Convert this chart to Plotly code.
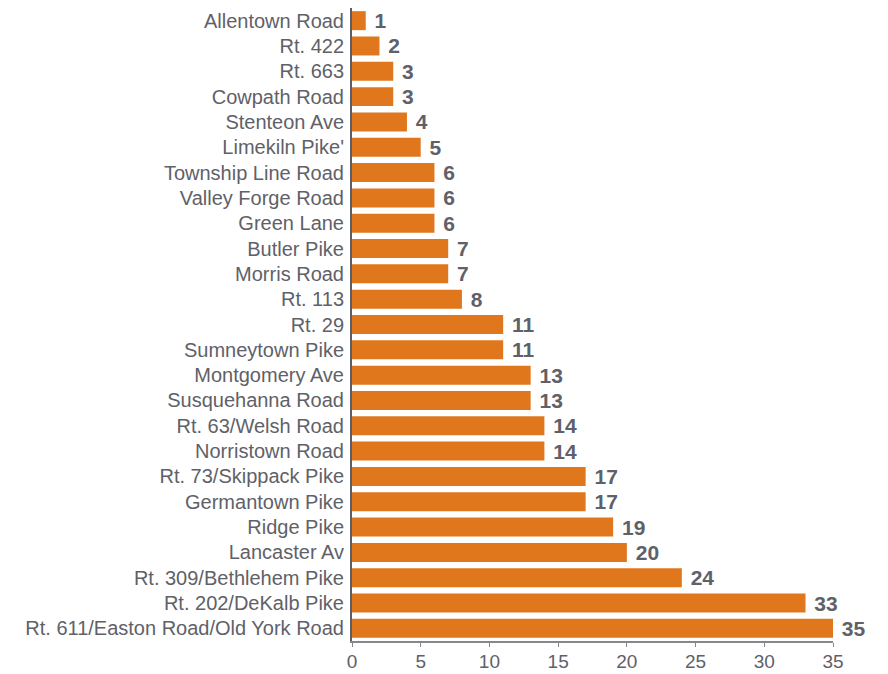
import plotly.graph_objects as go

roads = [
    "Allentown Road", "Rt. 422", "Rt. 663", "Cowpath Road", "Stenteon Ave",
    "Limekiln Pike'", "Township Line Road", "Valley Forge Road", "Green Lane",
    "Butler Pike", "Morris Road", "Rt. 113", "Rt. 29", "Sumneytown Pike",
    "Montgomery Ave", "Susquehanna Road", "Rt. 63/Welsh Road", "Norristown Road",
    "Rt. 73/Skippack Pike", "Germantown Pike", "Ridge Pike", "Lancaster Av",
    "Rt. 309/Bethlehem Pike", "Rt. 202/DeKalb Pike",
    "Rt. 611/Easton Road/Old York Road",
]
counts = [1, 2, 3, 3, 4, 5, 6, 6, 6, 7, 7, 8, 11, 11, 13, 13, 14, 14,
          17, 17, 19, 20, 24, 33, 35]
ticks = [0, 5, 10, 15, 20, 25, 30, 35]

ORANGE = "#E0771D"
GREY = "#606168"

fig = go.Figure(
    go.Bar(
        x=counts,
        y=roads,
        orientation="h",
        marker=dict(color=ORANGE, line=dict(width=0)),
        texttemplate=" %{x}",
        textposition="outside",
        constraintext="none",
        textfont=dict(family="Liberation Sans", size=21, color=GREY,
                      weight="bold"),
        cliponaxis=False,
    )
)

# page body has an 8px margin, so the figure is sized/offset to compensate
fig.update_layout(
    width=880,
    height=666,
    paper_bgcolor="white",
    plot_bgcolor="white",
    margin=dict(l=344, r=55, t=0, b=33, autoexpand=False),
    bargap=0.25,
    showlegend=False,
    font=dict(family="Liberation Sans", color=GREY),
)
fig.update_xaxes(
    range=[0, 35],
    tickvals=ticks,
    showgrid=False,
    zeroline=False,
    showline=True,
    linecolor="#86878d",
    linewidth=2,
    ticks="outside",
    ticklen=4,
    tickcolor="#86878d",
    ticklabelstandoff=-2,
    tickfont=dict(size=19, color=GREY),
)
fig.update_yaxes(
    autorange="reversed",
    automargin=False,
    showgrid=False,
    showline=True,
    linecolor="#5d5e66",
    linewidth=2,
    ticks="",
    ticklabelstandoff=2,
    tickfont=dict(size=20, color=GREY),
)

fig.write_html("out.html")
